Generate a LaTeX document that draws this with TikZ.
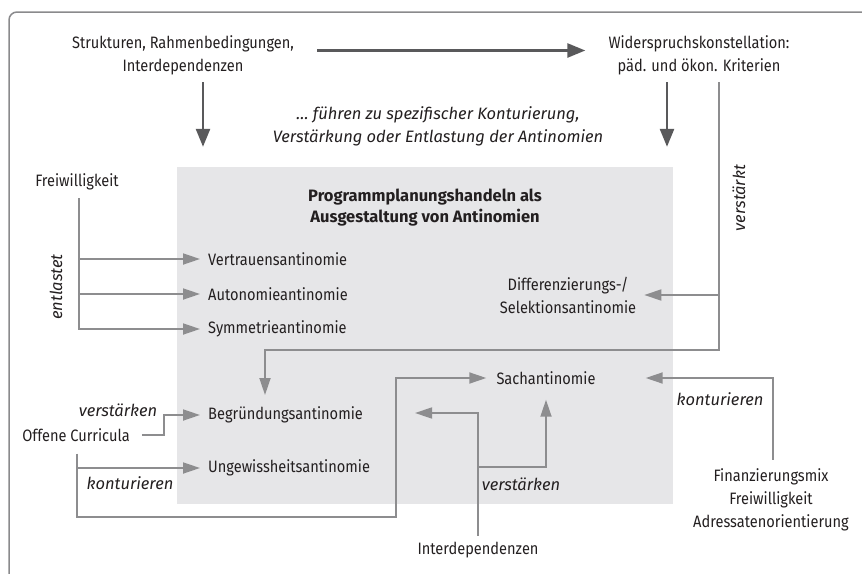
\documentclass[tikz,border=0pt]{standalone}
\usepackage{fontspec}
\setmainfont{Fira Sans}[FakeStretch=0.885]
\newfontfamily\widefam{Fira Sans}
\usepackage{tikz}
\usetikzlibrary{arrows.meta,positioning}
\definecolor{linegray}{HTML}{8D8D8F}
\definecolor{darkarrow}{HTML}{59595B}
\definecolor{boxfill}{HTML}{E6E6E8}
\definecolor{framegray}{HTML}{8A8A8C}
\definecolor{textcol}{HTML}{231F20}
\tikzstyle{txt}=[inner sep=0pt, align=center, text=textcol, font=\fontsize{16.5}{23}\selectfont]
\tikzstyle{ital}=[txt, font=\fontsize{16.5}{23}\selectfont\widefam\itshape]
\tikzstyle{conn}=[draw=linegray, line width=1.8pt, -{Triangle[length=17pt,width=11pt]}]
\tikzstyle{bigarrow}=[draw=darkarrow, line width=2.6pt, -{Triangle[length=18pt,width=14pt]}]

\begin{document}
\begin{tikzpicture}[x=1pt,y=-1pt]

\useasboundingbox (0,0) rectangle (862,573);
\draw[framegray, line width=1.5pt, rounded corners=8pt] (9,600) -- (9,12) -- (900,12);

% kasten
\node[fill=boxfill, minimum width=496pt, minimum height=337pt, inner sep=0pt] (box) at (425,335.5) {};
\node[txt, font=\fontsize{16.5}{21.5}\selectfont\widefam\bfseries] (title) at (425,207.5) {Programmplanungshandeln als\\Ausgestaltung von Antinomien};

% oben
\node[txt] (struk) at (183,55.5) {Strukturen, Rahmenbedingungen,\\Interdependenzen};
\node[txt] (wider) at (699,55.5) {Widerspruchskonstellation:\\päd. und ökon. Kriterien};
\node[ital] (fuehren) at (438,126.5) {\dots\ führen zu spezifischer Konturierung,\\Verstärkung oder Entlastung der Antinomien};

\draw[bigarrow] ([xshift=23pt,yshift=5pt]struk.east) -- ([xshift=-23pt,yshift=5pt]wider.west);
\draw[bigarrow] ([xshift=20pt,yshift=-7pt]struk.south) -- ([xshift=20pt,yshift=20pt]struk.south |- box.north);
\draw[bigarrow] ([xshift=-32pt,yshift=-7pt]wider.south) -- ([xshift=-32pt,yshift=20pt]wider.south |- box.north);

% antinomien
\node[txt, anchor=west] (vert) at (208,259) {Vertrauensantinomie};
\node[txt, anchor=west] (auto) at (208,294) {Autonomieantinomie};
\node[txt, anchor=west] (sym) at (208,329) {Symmetrieantinomie};
\node[txt, anchor=west] (begr) at (208,415) {Begründungsantinomie};
\node[txt, anchor=west] (ungew) at (208,468) {Ungewissheitsantinomie};
\node[txt] (diff) at (568,295) {Differenzierungs-/\\Selektionsantinomie};
\node[txt] (sach) at (546,378) {Sachantinomie};

% freiwilligkeit
\node[txt] (frei) at (77,182) {Freiwilligkeit};
\node[ital, rotate=90] (entl) at (56,287) {entlastet};
\draw[conn] ([xshift=2pt,yshift=-8pt]frei.south) |- ([xshift=-8pt]sym.west);
\draw[conn] ([xshift=2pt]frei.south |- vert.west) -- ([xshift=-8pt]vert.west);
\draw[conn] ([xshift=2pt]frei.south |- auto.west) -- ([xshift=-8pt]auto.west);

% widerspruch
\coordinate (vk1) at (719,350);
\coordinate (vk2) at (265,350);
\coordinate (vkend) at (265,395);
\node[ital, rotate=90] (verst) at (739,198) {verstärkt};
\draw[conn] ([xshift=20pt,yshift=-7pt]wider.south) -- (vk1) -- (vk2) -- (vkend);
\draw[conn] (vk1 |- diff.east) -- ([xshift=8pt]diff.east);

% offene curricula
\node[txt] (offen) at (76,435) {Offene Curricula};
\node[ital] (verst2) at (118,410) {verstärken};
\node[ital] (kont) at (130,483) {konturieren};
\coordinate (oc) at (396,517);
\draw[conn] ([xshift=12pt]offen.east) -- ++(22,0) |- ([xshift=-8pt]begr.west);
\draw[conn] ([xshift=1pt,yshift=-12pt]offen.south) |- (oc) |- ([xshift=-10pt]sach.west);
\draw[conn] ([xshift=1pt]offen.south |- ungew.west) -- ([xshift=-8pt]ungew.west);

% interdependenzen
\node[txt] (inter) at (478,550) {Interdependenzen};
\node[ital] (verst3) at (521,484) {verstärken};
\coordinate (ib) at (478,467);
\draw[conn] ([yshift=6pt]inter.north) |- ([xshift=52pt,yshift=2pt]begr.east);
\draw[conn] (ib) -| ([yshift=-15pt]sach.south);

% finanzierung
\node[txt] (finanz) at (771,500) {Finanzierungsmix\\Freiwilligkeit\\Adressatenorientierung};
\node[ital] (kont2) at (720,399) {konturieren};
\draw[conn] ([xshift=2pt,yshift=9pt]finanz.north) |- ([xshift=50pt]sach.east);

\end{tikzpicture}
\end{document}
